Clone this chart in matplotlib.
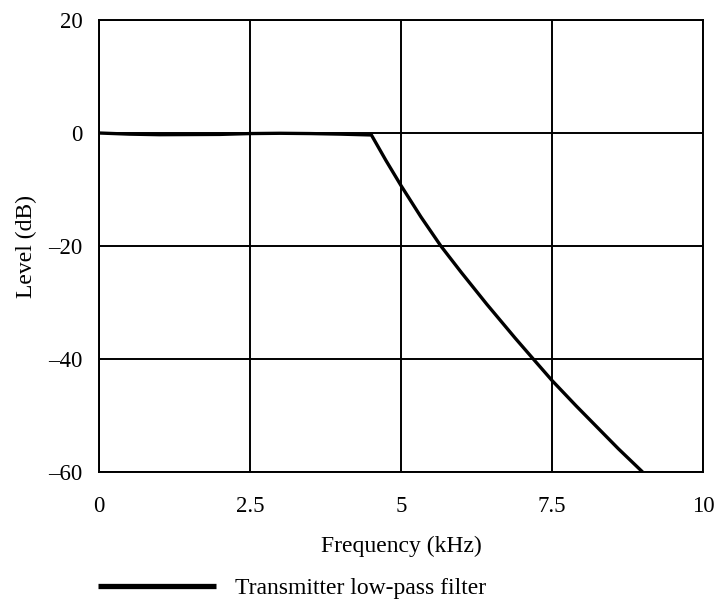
import matplotlib
matplotlib.use("Agg")
import matplotlib.pyplot as plt
from matplotlib.lines import Line2D
import numpy as np

# transmitter low-pass filter response
freq_khz = [0, 0.5, 1.0, 2.0, 2.5, 3.0, 3.5, 4.0, 4.51, 4.75, 5.0, 5.33, 5.66, 6.0,
            6.42, 6.89, 7.19, 7.5, 7.9, 8.25, 8.6, 9.0]
level_db = [0, -0.2, -0.3, -0.25, -0.1, -0.05, -0.1, -0.2, -0.35, -4.85, -9.3, -14.85, -20, -24.7,
            -30.3, -36.3, -40, -43.8, -48.3, -52.1, -55.9, -60]

x_ticks = [0, 2.5, 5, 7.5, 10]
x_ticklabels = ['0', '2.5', '5', '7.5', '10']
y_ticks = [20, 0, -20, -40, -60]
y_ticklabels = ['20', '0', '\u201320', '\u201340', '\u201360']

plt.rcParams['font.family'] = ['Liberation Serif', 'DejaVu Serif']
plt.rcParams['font.size'] = 16.5

fig = plt.figure(figsize=(7.17, 6.03), dpi=100)
ax = fig.add_axes([99/717, 1-472/603, 604/717, 452/603])

ax.plot(freq_khz, level_db, color='black', lw=2.4, solid_capstyle='butt',
        solid_joinstyle='round', zorder=3)

ax.set_xlim(0, 10)
ax.set_ylim(-60, 20)
ax.set_xticks(x_ticks)
ax.set_xticklabels(x_ticklabels)
ax.set_yticks(y_ticks)
ax.set_yticklabels(y_ticklabels)
ax.tick_params(length=0)
ax.tick_params(axis='x', pad=17)
ax.tick_params(axis='y', pad=12)
ax.grid(True, color='black', lw=1.4)
for s in ax.spines.values():
    s.set_linewidth(1.4)

ax.set_xlabel('Frequency (kHz)', fontsize=17, labelpad=14)
ax.set_ylabel('Level (dB)', fontsize=17, labelpad=8)

# legend below the axes, thicker handle than the curve
handle = Line2D([], [], color='black', lw=3.8, solid_capstyle='butt')
fig.legend([handle], ['Transmitter low-pass filter'], loc='center left',
           bbox_to_anchor=(98/717, 1-588/603), fontsize=17,
           frameon=False, handlelength=5.0, handletextpad=0.8,
           borderpad=0, borderaxespad=0)

fig.savefig('out.png', dpi=100)
